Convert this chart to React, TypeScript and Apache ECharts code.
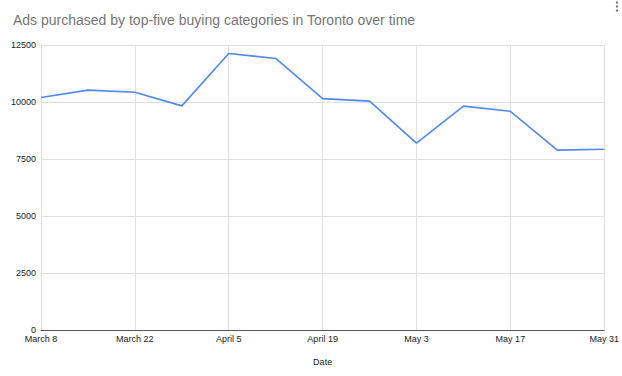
import React, { useEffect, useRef } from "react";
import * as echarts from "echarts";

const dates = [
  "March 8", "March 15", "March 22", "March 29", "April 5", "April 12", "April 19",
  "April 26", "May 3", "May 10", "May 17", "May 24", "May 31",
];
const adsPurchased = [10200, 10520, 10430, 9830, 12130, 11910, 10150, 10040, 8200, 9820, 9590, 7890, 7930];
const yTicks = { min: 0, max: 12500, interval: 2500 };
const titleText = "Ads purchased by top-five buying categories in Toronto over time";
const xAxisName = "Date";

export default function App() {
  const ref = useRef<HTMLDivElement>(null);
  useEffect(() => {
    if (!ref.current) return;
    const chart = echarts.init(ref.current, null, { renderer: "svg" });
    chart.setOption({
      animation: false,
      backgroundColor: "#ffffff",
      title: {
        text: titleText,
        left: 13,
        top: 13,
        padding: 0,
        textStyle: { fontFamily: "Liberation Sans, Arial", fontSize: 14, fontWeight: "normal", color: "#757575" },
      },
      graphic: [
        { type: "circle", shape: { cx: 617, cy: 2.5, r: 1.2 }, style: { fill: "#777" } },
        { type: "circle", shape: { cx: 617, cy: 6.5, r: 1.2 }, style: { fill: "#777" } },
        { type: "circle", shape: { cx: 617, cy: 10.5, r: 1.2 }, style: { fill: "#777" } },
      ],
      grid: { left: 41, right: 16, top: 45, bottom: 46, containLabel: false },
      xAxis: {
        type: "category",
        data: dates,
        boundaryGap: false,
        name: xAxisName,
        nameLocation: "middle",
        nameGap: 27,
        nameTextStyle: { fontFamily: "Liberation Sans, Arial", fontSize: 9, color: "#222" },
        axisLine: { show: true, lineStyle: { color: "#555", width: 1 } },
        axisTick: { show: false },
        axisLabel: {
          interval: 1,
          margin: 4,
          fontFamily: "Liberation Sans, Arial",
          fontSize: 9,
          color: "#222",
        },
        splitLine: { show: true, interval: 1, lineStyle: { color: "#e0e0e0", width: 1 } },
      },
      yAxis: {
        type: "value",
        min: yTicks.min,
        max: yTicks.max,
        interval: yTicks.interval,
        axisLine: { show: false },
        axisTick: { show: false },
        axisLabel: {
          margin: 5,
          fontFamily: "Liberation Sans, Arial",
          fontSize: 9,
          color: "#222",
          formatter: (v: number) => String(v),
        },
        splitLine: { show: true, lineStyle: { color: "#e0e0e0", width: 1 } },
      },
      series: [
        {
          type: "line",
          data: adsPurchased,
          symbol: "none",
          lineStyle: { color: "#5089f5", width: 1.6 },
          itemStyle: { color: "#5089f5" },
        },
      ],
    });
    return () => chart.dispose();
  }, []);
  return <div ref={ref} style={{ position: "absolute", left: 0, top: 0, width: 622, height: 376 }} />;
}
